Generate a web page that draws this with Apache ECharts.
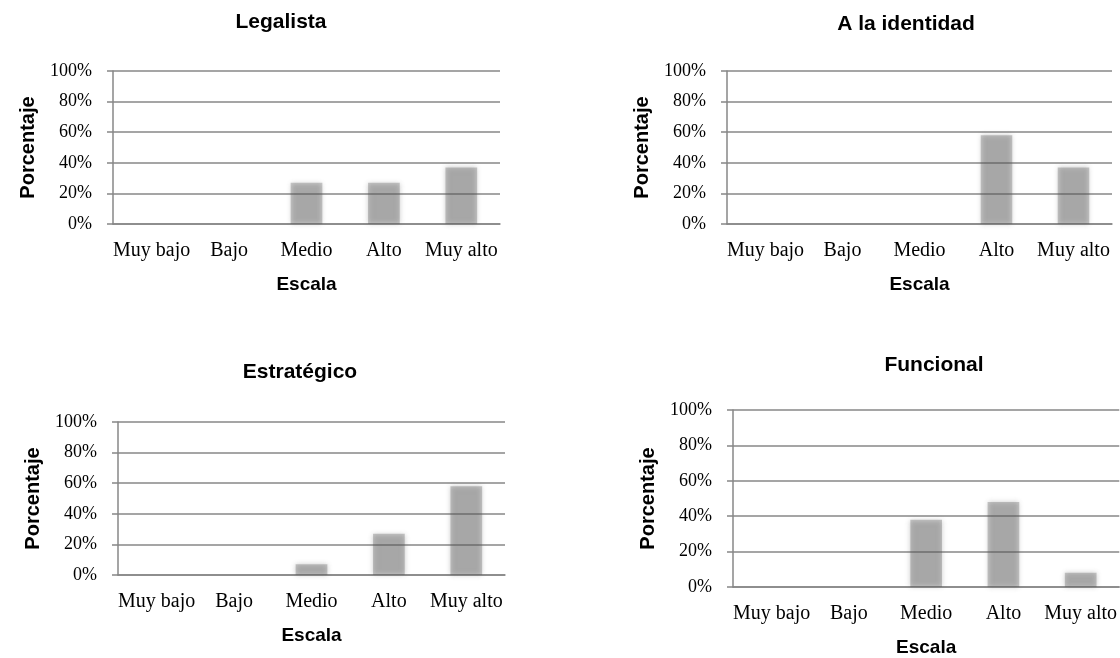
<!DOCTYPE html>
<html>
<head>
<meta charset="utf-8">
<title>Escala</title>
<script src="https://cdn.jsdelivr.net/npm/echarts@6/dist/echarts.min.js"></script>
<style>
	html, body { margin: 0; padding: 0; background: #fff; }
	#main { width: 1120px; height: 658px; }
</style>
</head>
<body>
<div id="main"></div>
<script>
	// datos
	var categories = ['Muy bajo', 'Bajo', 'Medio', 'Alto', 'Muy alto'];
	var titles = ['Legalista', 'A la identidad', 'Estratégico', 'Funcional'];
	var legalista = [0, 0, 27, 27, 37];
	var identidad = [0, 0, 0, 58, 37];
	var estrategico = [0, 0, 7, 27, 58];
	var funcional = [0, 0, 38, 48, 8];
	var seriesData = [legalista, identidad, estrategico, funcional];

	// posiciones de cada panel
	var grids = [
		{ left: 113, top: 71, width: 387, height: 153 },
		{ left: 727, top: 71, width: 385, height: 153 },
		{ left: 118, top: 422, width: 387, height: 153 },
		{ left: 733, top: 410, width: 387, height: 178 }
	];
	var titlePos = [
		{ left: 281, top: 12 },
		{ left: 906, top: 14 },
		{ left: 300, top: 362 },
		{ left: 934, top: 355 }
	];

	var lineColor = '#878787';
	var serif = '"Liberation Serif", "Times New Roman", serif';
	var sans = '"Liberation Sans", Arial, sans-serif';

	var chart = echarts.init(document.getElementById('main'));

	var option = {
		animation: false,
		title: [],
		grid: [],
		xAxis: [],
		yAxis: [],
		series: []
	};

	for (var i = 0; i < 4; i++) {
		option.title.push({
			text: titles[i],
			left: titlePos[i].left,
			top: titlePos[i].top,
			textAlign: 'center',
			padding: 0,
			textStyle: { fontFamily: sans, fontSize: 21, fontWeight: 'bold', color: '#000' }
		});
		option.grid.push(grids[i]);
		option.xAxis.push({
			type: 'category',
			gridIndex: i,
			data: categories,
			name: 'Escala',
			nameLocation: 'middle',
			nameGap: 51,
			nameTextStyle: { fontFamily: sans, fontSize: 19, fontWeight: 'bold', color: '#000' },
			axisLine: { show: true, lineStyle: { color: lineColor, width: 1.5 } },
			axisTick: { show: false },
			axisLabel: { interval: 0, margin: 17, fontFamily: serif, fontSize: 20, color: '#000' }
		});
		option.yAxis.push({
			type: 'value',
			gridIndex: i,
			min: 0,
			max: 100,
			interval: 20,
			name: 'Porcentaje',
			nameLocation: 'middle',
			nameRotate: 90,
			nameGap: 75,
			nameTextStyle: { fontFamily: sans, fontSize: 20, fontWeight: 'bold', color: '#000' },
			axisLine: { show: true, lineStyle: { color: lineColor, width: 1.5 } },
			axisTick: { show: true, length: 6, lineStyle: { color: lineColor, width: 1.5 } },
			splitLine: { show: true, lineStyle: { color: lineColor, width: 1.5 } },
			axisLabel: { margin: 21, fontFamily: serif, fontSize: 18, color: '#000', formatter: '{value}%' }
		});
		// barras grises difuminadas, la rejilla se ve a través
		option.series.push({
			type: 'bar',
			xAxisIndex: i,
			yAxisIndex: i,
			data: seriesData[i],
			barWidth: '41%',
			itemStyle: {
				color: 'rgba(82, 82, 82, 0.3)',
				shadowBlur: 5,
				shadowColor: 'rgba(82, 82, 82, 1)'
			}
		});
	}

	chart.setOption(option);
</script>
</body>
</html>
